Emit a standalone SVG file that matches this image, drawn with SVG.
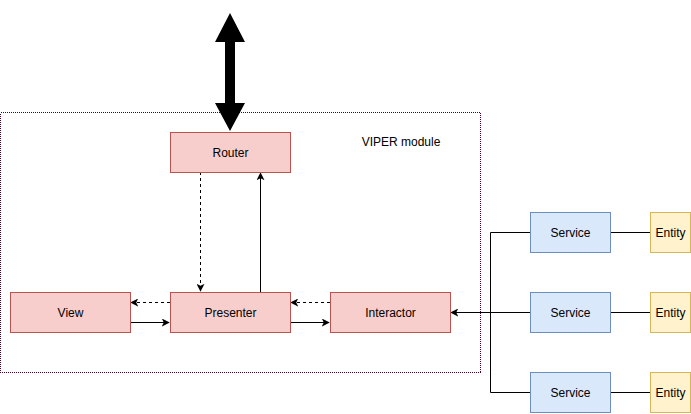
<svg xmlns="http://www.w3.org/2000/svg" width="691" height="414" viewBox="0 0 691 414">
<style>
.r{fill:#f8cecc;stroke:#b85450;stroke-width:1}
.b{fill:#dae8fc;stroke:#6c8ebf;stroke-width:1}
.y{fill:#fff2cc;stroke:#d6b656;stroke-width:1}
text{font-family:"Liberation Sans",Arial,sans-serif;font-size:12px;fill:#000;text-anchor:middle;dominant-baseline:central}
.e{fill:none;stroke:#000;stroke-width:1}
.d{stroke-dasharray:3,3}
</style>
<defs>
<marker id="a" viewBox="0 0 10 10" refX="9" refY="5" markerWidth="8" markerHeight="8" markerUnits="userSpaceOnUse" orient="auto">
<path d="M0,0 L10,5 L0,10 L2.5,5 Z" fill="#000"/>
</marker>
</defs>
<rect x="0.5" y="112.5" width="480" height="260" fill="none" stroke="#4d0026" stroke-dasharray="1,1" shape-rendering="crispEdges"/>
<text x="401" y="142">VIPER module</text>
<g id="connectors">
<polygon points="230,13 245,42 235,42 235,103 245,103 230,131 215,103 225,103 225,42 215,42" fill="#000"/>
<path class="e d" d="M200.5,172 V291" marker-end="url(#a)"/>
<path class="e" d="M260.5,292 V173" marker-end="url(#a)"/>
<path class="e d" d="M170,302.5 H131" marker-end="url(#a)"/>
<path class="e" d="M130,322.5 H169" marker-end="url(#a)"/>
<path class="e d" d="M330,302.5 H291" marker-end="url(#a)"/>
<path class="e" d="M290,322.5 H329" marker-end="url(#a)"/>
<path class="e" d="M530,232.5 H490.5 V392.5 H530"/>
<path class="e" d="M530,312.5 H451" marker-end="url(#a)"/>
<path class="e" d="M610,232.5 H650 M610,312.5 H650 M610,392.5 H650"/>
</g>
<g id="router"><rect class="r" x="170.5" y="132.5" width="120" height="40"/><text x="230.5" y="152.5">Router</text></g>
<g id="view"><rect class="r" x="10.5" y="292.5" width="120" height="40"/><text x="70.5" y="312.5">View</text></g>
<g id="presenter"><rect class="r" x="170.5" y="292.5" width="120" height="40"/><text x="230.5" y="312.5">Presenter</text></g>
<g id="interactor"><rect class="r" x="330.5" y="292.5" width="120" height="40"/><text x="390.5" y="312.5">Interactor</text></g>
<g id="service1"><rect class="b" x="530.5" y="212.5" width="80" height="40"/><text x="570.5" y="232.5">Service</text></g>
<g id="service2"><rect class="b" x="530.5" y="292.5" width="80" height="40"/><text x="570.5" y="312.5">Service</text></g>
<g id="service3"><rect class="b" x="530.5" y="372.5" width="80" height="40"/><text x="570.5" y="392.5">Service</text></g>
<g id="entity1"><rect class="y" x="650.5" y="212.5" width="40" height="40"/><text x="670.5" y="232.5">Entity</text></g>
<g id="entity2"><rect class="y" x="650.5" y="292.5" width="40" height="40"/><text x="670.5" y="312.5">Entity</text></g>
<g id="entity3"><rect class="y" x="650.5" y="372.5" width="40" height="40"/><text x="670.5" y="392.5">Entity</text></g>
</svg>
